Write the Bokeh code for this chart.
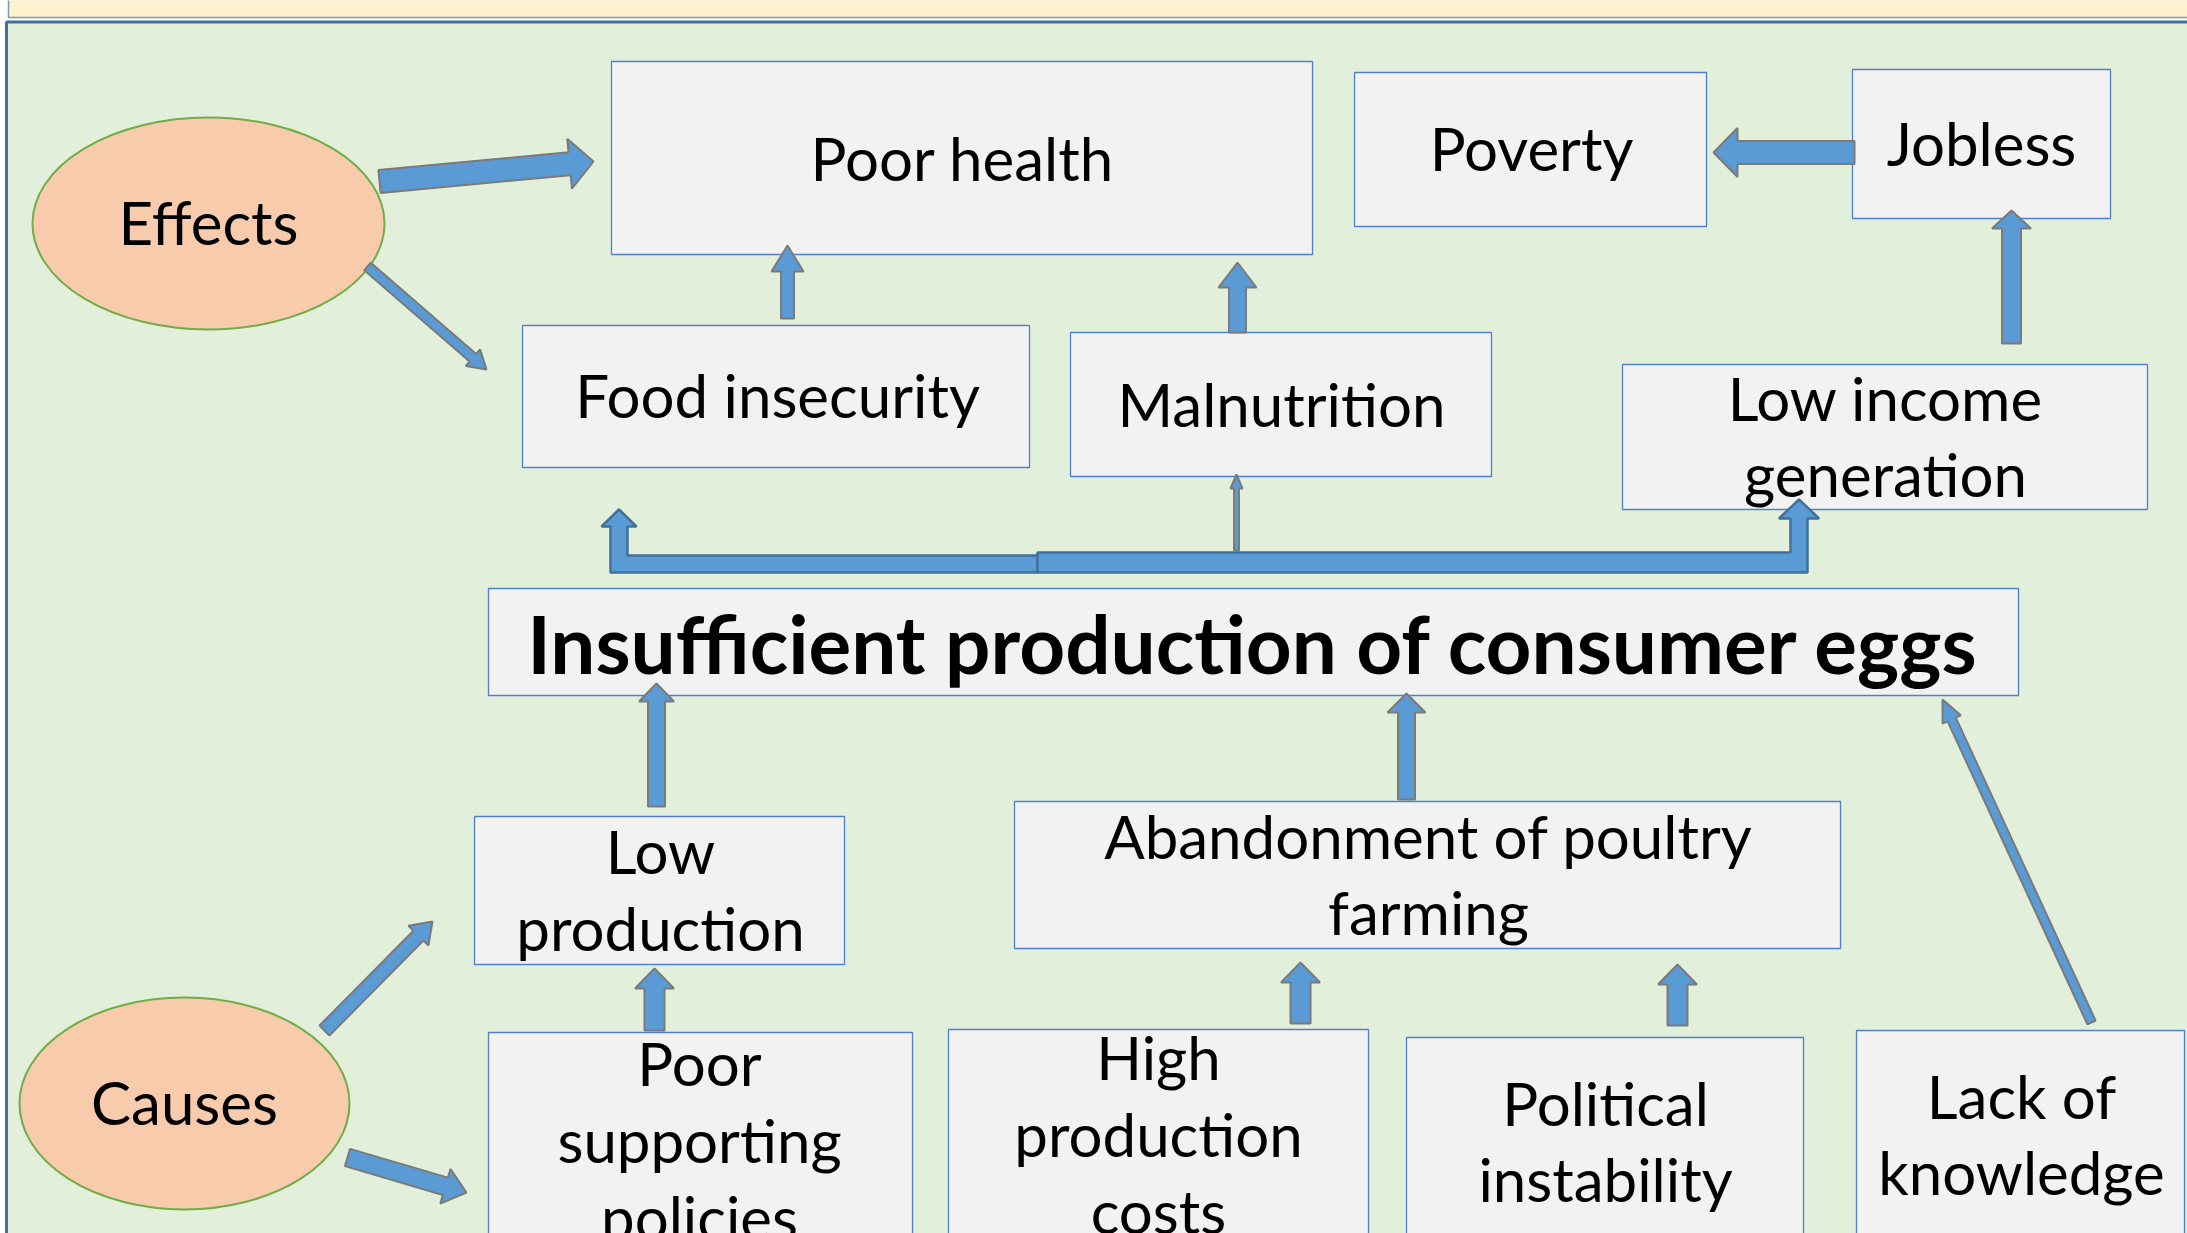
import numpy as np
from bokeh.plotting import figure
from bokeh.models import Range1d
from bokeh.core.properties import value
from bokeh.embed import file_html
from bokeh.resources import INLINE

# ---------------- diagram content ----------------
box_names = ["Poor health", "Poverty", "Jobless", "Food insecurity", "Malnutrition",
             "Low income generation", "Insufficient production of consumer eggs",
             "Low production", "Abandonment of poultry farming", "Poor supporting policies",
             "High production costs", "Political instability", "Lack of knowledge"]
box_left = [611, 1354, 1852, 522, 1070, 1622, 488, 474, 1014, 488, 948, 1406, 1856]
box_right = [1312, 1706, 2110, 1029, 1491, 2147, 2018, 844, 1840, 912, 1368, 1803, 2184]
box_top = [61, 72, 69, 325, 332, 364, 588, 816, 801, 1032, 1029, 1037, 1030]
box_bottom = [254, 226, 218, 467, 476, 509, 695, 964, 948, 1300, 1300, 1300, 1300]

oval_names = ["Effects", "Causes"]
oval_x = [208, 184]
oval_y = [223, 1103]
oval_w = [352, 330]
oval_h = [212, 212]

text_lines = ["Effects", "Poor health", "Poverty", "Jobless", "Food insecurity", "Malnutrition",
              "Low income", "generation", "Low", "production", "Abandonment of poultry", "farming",
              "Poor", "supporting", "policies", "High", "production", "costs",
              "Political", "instability", "Lack of", "knowledge", "Causes"]
text_x = [208, 962, 1531, 1981, 777, 1281, 1885, 1885, 660, 660, 1428, 1428,
          699, 699, 699, 1158, 1158, 1158, 1605, 1605, 2021, 2021, 184]
text_y = [221, 157, 147, 142, 394, 403, 397, 473, 850, 927, 835, 911,
          1062, 1139, 1216, 1056, 1133, 1210, 1102, 1178, 1095, 1171, 1101]

title_text = "Insufficient production of consumer eggs"
title_x = 1253
title_y = 642

# block arrows: tail x, tail y, tip x, tip y, shaft width, head width, head length
arr_x0 = [379, 367, 787, 1237, 1854, 2011, 1236, 656, 1406, 2091, 324, 347, 654, 1300, 1677]
arr_y0 = [181, 266, 318, 332, 152, 343, 550, 806, 799, 1022, 1030, 1157, 1030, 1023, 1025]
arr_x1 = [593, 486, 787, 1237, 1713, 2011, 1236, 656, 1406, 1942, 432, 466, 654, 1300, 1677]
arr_y1 = [161, 369, 245, 262, 152, 210, 474, 683, 693, 699, 921, 1192, 968, 962, 964]
arr_sw = [23, 10, 13, 17, 23, 19, 5, 17, 17, 9, 14, 18, 20, 20, 20]
arr_hw = [50, 22, 32, 38, 49, 39, 12, 35, 38, 20, 28, 36, 39, 39, 39]
arr_hl = [24, 18, 26, 25, 24, 18, 14, 18, 19, 22, 20, 22, 20, 20, 20]

# bent (branch) arrows: tail x, shaft centre x, bar top y, bar bottom y, shaft w, head w, head l, tip y
bent_tail = [1037, 1037]
bent_xc = [618.5, 1798.5]
bent_top = [555, 552]
bent_bot = [572, 572]
bent_sw = [17, 17]
bent_hw = [35, 40]
bent_hl = [17, 19]
bent_tip = [509, 499]


def block_arrow(x0, y0, x1, y1, sw, hw, hl):
    d = np.array([x1 - x0, y1 - y0], dtype=float)
    L = np.hypot(*d)
    d /= L
    n = np.array([-d[1], d[0]])
    t = np.array([x0, y0], float)
    tip = np.array([x1, y1], float)
    base = tip - d * hl
    pts = [t + n * sw / 2, base + n * sw / 2, base + n * hw / 2, tip,
           base - n * hw / 2, base - n * sw / 2, t - n * sw / 2]
    return [p[0] for p in pts], [p[1] for p in pts]


def bent_arrow(xt, xc, yt, yb, sw, hw, hl, ytip):
    s = 1 if xc > xt else -1
    outer = xc + s * sw / 2
    inner = xc - s * sw / 2
    hb = ytip + hl
    xs = [xt, outer, outer, xc + s * hw / 2, xc, xc - s * hw / 2, inner, inner, xt]
    ys = [yb, yb, hb, hb, ytip, hb, hb, yt, yt]
    return xs, ys


W, H = 2187, 1233
p = figure(width=W, height=H, output_backend="svg", toolbar_location=None,
           x_range=Range1d(0, W), y_range=Range1d(H, 0),
           x_axis_type=None, y_axis_type=None, min_border=0,
           background_fill_color="white", border_fill_color="white")
p.grid.visible = False
p.outline_line_color = None

# header band and panel
p.quad(left=[8], right=[2300], top=[-10], bottom=[17], fill_color="#fff2cc",
       line_color="#7a98b8", line_width=1.5)
p.quad(left=[6], right=[2300], top=[21.5], bottom=[1400], fill_color="#e2efda",
       line_color="#41719c", line_width=3)

# ovals
p.ellipse(x=oval_x, y=oval_y, width=oval_w, height=oval_h, fill_color="#f8cbad",
          line_color="#70ad47", line_width=2)

# boxes
p.quad(left=box_left, right=box_right, top=box_top, bottom=box_bottom,
       fill_color="#f2f2f2", line_color="#4f7fcf", line_width=1.3)

# block arrows
axs, ays = [], []
for i in range(len(arr_x0)):
    xs, ys = block_arrow(arr_x0[i], arr_y0[i], arr_x1[i], arr_y1[i], arr_sw[i], arr_hw[i], arr_hl[i])
    axs.append(xs)
    ays.append(ys)
p.patches(xs=axs, ys=ays, fill_color="#5b9bd5", line_color="#7a7a7a", line_width=2)

bxs, bys = [], []
for i in range(len(bent_tail)):
    xs, ys = bent_arrow(bent_tail[i], bent_xc[i], bent_top[i], bent_bot[i],
                        bent_sw[i], bent_hw[i], bent_hl[i], bent_tip[i])
    bxs.append(xs)
    bys.append(ys)
p.patches(xs=bxs, ys=bys, fill_color="#5b9bd5", line_color="#41719c", line_width=2.5)

# texts
p.text(x=text_x, y=text_y, text=text_lines, text_font=value("Lato"), text_font_size="60px",
       text_align="center", text_baseline="alphabetic", text_color="black")
p.text(x=[title_x], y=[title_y], text=[title_text], text_font=value("Lato"),
       text_font_size="80px", text_font_style="bold", text_align="center",
       text_baseline="alphabetic", text_color="black")

open("out.html", "w").write(file_html(p, INLINE))
